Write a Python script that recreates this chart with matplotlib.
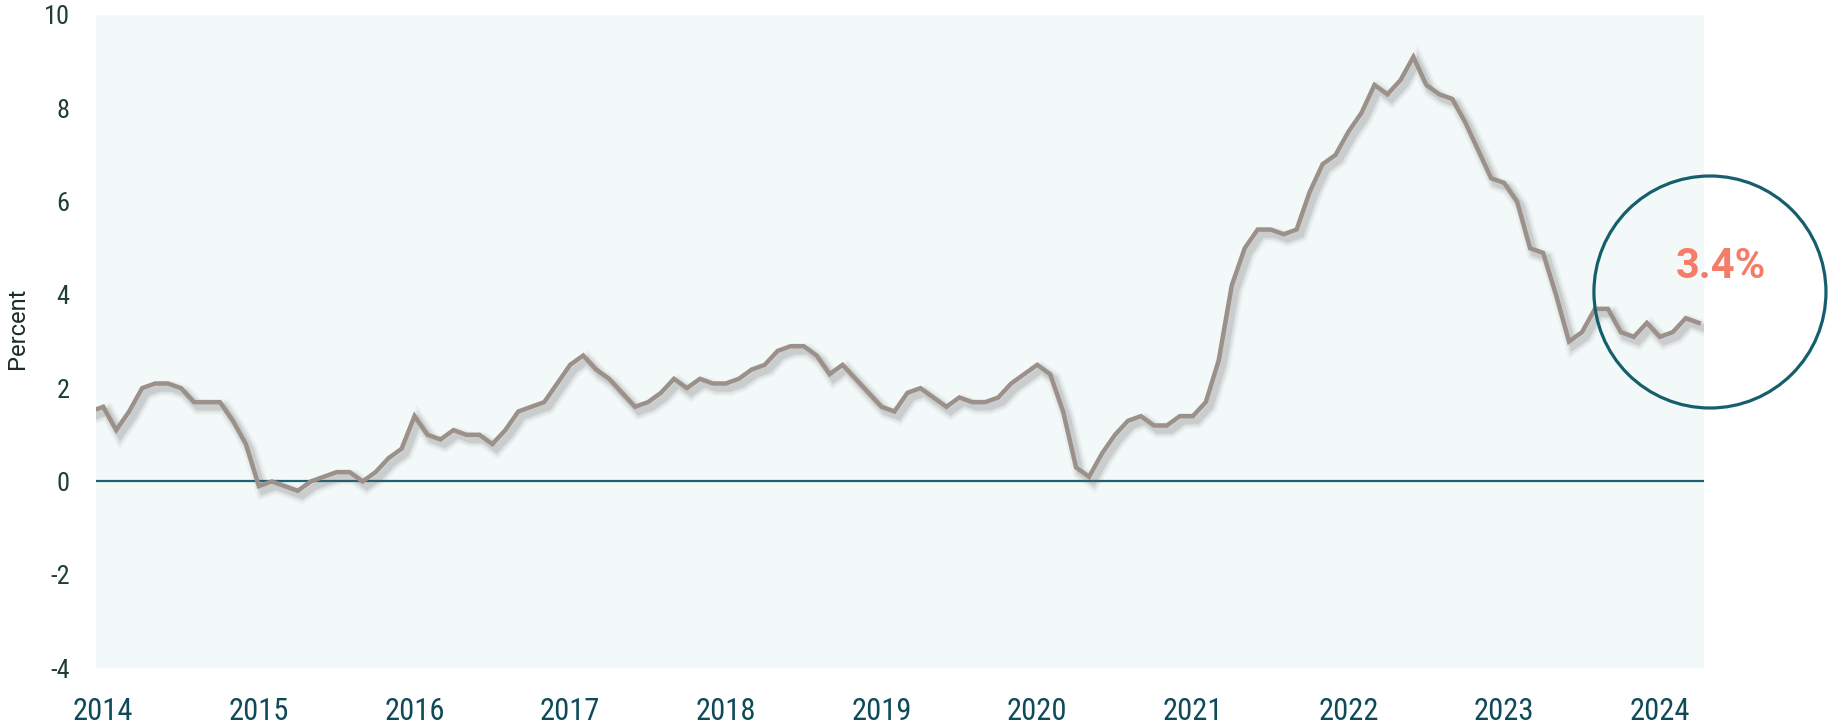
import matplotlib
matplotlib.use("Agg")
import matplotlib.pyplot as plt
import matplotlib.patheffects as pe
from matplotlib.patches import Ellipse
from matplotlib import font_manager

# CPI year-over-year, monthly, Dec 2013 .. Apr 2024
cpi = [
    1.5,
    1.6, 1.1, 1.5, 2.0, 2.1, 2.1, 2.0, 1.7, 1.7, 1.7, 1.3, 0.8,
    -0.1, 0.0, -0.1, -0.2, 0.0, 0.1, 0.2, 0.2, 0.0, 0.2, 0.5, 0.7,
    1.4, 1.0, 0.9, 1.1, 1.0, 1.0, 0.8, 1.1, 1.5, 1.6, 1.7, 2.1,
    2.5, 2.7, 2.4, 2.2, 1.9, 1.6, 1.7, 1.9, 2.2, 2.0, 2.2, 2.1,
    2.1, 2.2, 2.4, 2.5, 2.8, 2.9, 2.9, 2.7, 2.3, 2.5, 2.2, 1.9,
    1.6, 1.5, 1.9, 2.0, 1.8, 1.6, 1.8, 1.7, 1.7, 1.8, 2.1, 2.3,
    2.5, 2.3, 1.5, 0.3, 0.1, 0.6, 1.0, 1.3, 1.4, 1.2, 1.2, 1.4,
    1.4, 1.7, 2.6, 4.2, 5.0, 5.4, 5.4, 5.3, 5.4, 6.2, 6.8, 7.0,
    7.5, 7.9, 8.5, 8.3, 8.6, 9.1, 8.5, 8.3, 8.2, 7.7, 7.1, 6.5,
    6.4, 6.0, 5.0, 4.9, 4.0, 3.0, 3.2, 3.7, 3.7, 3.2, 3.1, 3.4,
    3.1, 3.2, 3.5, 3.4,
]
years = [str(y) for y in range(2014, 2025)]
yticks = [-4, -2, 0, 2, 4, 6, 8, 10]
latest_label = "3.4%"

# month index, Jan 2014 = 0
x = list(range(-1, len(cpi) - 1))

installed = {f.name for f in font_manager.fontManager.ttflist}
font = "DejaVu Sans"
for cand in ["Roboto Condensed", "Barlow", "Liberation Sans Narrow", "Roboto"]:
    if cand in installed:
        font = cand
        break
plt.rcParams['font.family'] = font
bold_font = "Roboto" if "Roboto" in installed else font

fig = plt.figure(figsize=(18.3, 7.28), dpi=100)
ax = fig.add_axes([0.0525, 0.0824, 0.8786, 0.897])
ax.set_facecolor("#f3f9f9")

shadow = [
    pe.SimpleLineShadow(offset=(3, -3.5), shadow_color="#5a5a5a", alpha=0.06, linewidth=11),
    pe.SimpleLineShadow(offset=(3, -3.5), shadow_color="#5a5a5a", alpha=0.09, linewidth=8),
    pe.SimpleLineShadow(offset=(3, -3.5), shadow_color="#5a5a5a", alpha=0.14, linewidth=5),
    pe.Normal(),
]
ax.plot(x, cpi, color="#9b918a", lw=3.2, solid_joinstyle="miter",
        path_effects=shadow, zorder=3)
ax.axhline(0, color="#1b6272", lw=1.6, zorder=2)

ax.set_xlim(-0.55, 123.4)
ax.set_ylim(-4, 10)
ax.set_yticks(yticks)
ax.set_yticklabels([str(v) for v in yticks], fontsize=19, color="#1d3f38")
ax.set_xticks([12 * i for i in range(len(years))])
ax.set_xticklabels(years, fontsize=22, color="#0e4a58")
ax.tick_params(length=0)
ax.tick_params(axis="y", pad=19)
ax.tick_params(axis="x", pad=21)
for s in ax.spines.values():
    s.set_visible(False)
ax.set_ylabel("Percent", fontsize=17, color="#1d2b2b", family=bold_font)
ax.yaxis.set_label_coords(-0.042, 0.52)

# highlight circle around the latest reading
fig.patches.append(Ellipse((0.9344, 0.5989), 0.1268, 0.3187, transform=fig.transFigure,
                           fill=False, edgecolor="#155e6c", lw=2.3, zorder=5))
fig.text(0.9404, 0.634, latest_label, ha="center", va="center", family=bold_font,
         fontsize=30, fontweight="bold", color="#f47c69")

fig.savefig("out.png", dpi=100)
